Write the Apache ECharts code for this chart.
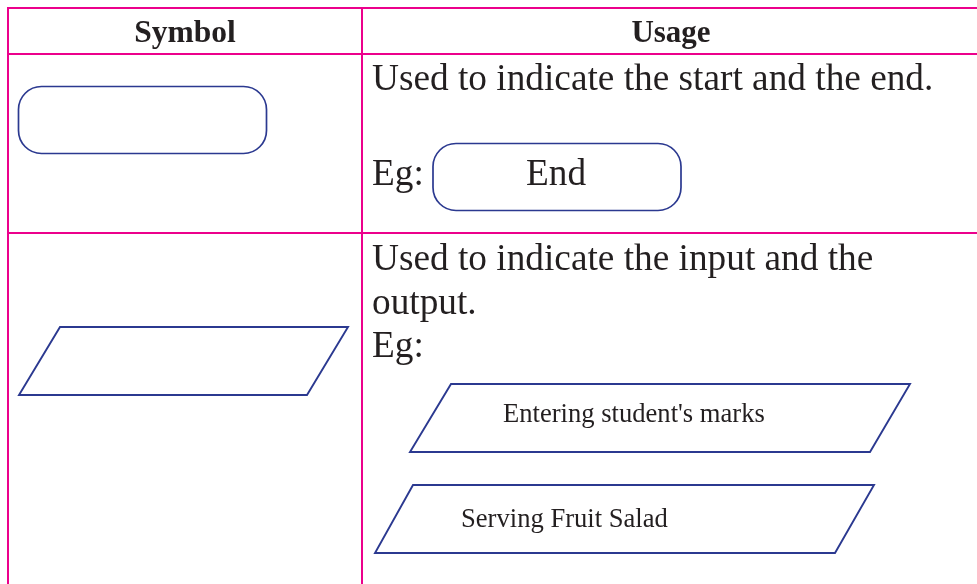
<!DOCTYPE html>
<html>
<head>
<meta charset="utf-8">
<script src="https://cdn.jsdelivr.net/npm/echarts@6/dist/echarts.min.js"></script>
<style>html,body{margin:0;padding:0;background:#fff}#c{width:977px;height:584px}</style>
</head>
<body>
<div id="c"></div>
<script>
// ---- content data ----
const headers = ["Symbol", "Usage"];
const row1Usage = ["Used to indicate the start and the end."];
const row1Example = "End";
const row2Usage = ["Used to indicate the input and the", "output."];
const egLabel = "Eg:";
const row2Examples = ["Entering student's marks", "Serving Fruit Salad"];

// ---- layout / style ----
const MAG = '#EC008C', BLUE = '#2B3990', INK = '#231F20';
const SERIF = '"Liberation Serif","Times New Roman",serif';
const W = 977, H = 584;

const mctx = document.createElement('canvas').getContext('2d');
function baselineOffset(font) {
  mctx.font = font;
  mctx.textBaseline = 'middle';
  return mctx.measureText('H').actualBoundingBoxDescent; // 'middle' line -> alphabetic baseline
}

function line(x1, y1, x2, y2, color, w) {
  return { type: 'line', shape: { x1, y1, x2, y2 }, style: { stroke: color, lineWidth: w }, silent: true };
}
function txt(s, x, baseline, size, opts) {
  opts = opts || {};
  const font = (opts.bold ? 'bold ' : '') + size + 'px ' + SERIF;
  return { type: 'text', style: { text: s, x, y: baseline - baselineOffset(font), fill: INK, font,
    align: opts.align || 'left', verticalAlign: 'middle' }, silent: true };
}
function rrect(x, y, w, h, r) {
  return { type: 'rect', shape: { x, y, width: w, height: h, r }, style: { fill: 'none', stroke: BLUE, lineWidth: 1.7 }, silent: true };
}
function para(tl, tr, br, bl) {
  return { type: 'polygon', shape: { points: [tl, tr, br, bl] }, style: { fill: 'none', stroke: BLUE, lineWidth: 1.9, lineJoin: 'miter' }, silent: true };
}

const g = [];
// table grid
g.push(line(7, 8, W, 8, MAG, 2));
g.push(line(7, 54, W, 54, MAG, 2));
g.push(line(7, 233, W, 233, MAG, 2));
g.push(line(8, 7, 8, H, MAG, 2));
g.push(line(362, 7, 362, H, MAG, 2));

// headers
g.push(txt(headers[0], 185, 42, 31.5, { bold: true, align: 'center' }));
g.push(txt(headers[1], 671, 42, 31, { bold: true, align: 'center' }));

// row 1
g.push(rrect(18.5, 86.5, 248, 67, 23));
g.push(txt(row1Usage[0], 372, 90, 37.3));
g.push(txt(egLabel, 372, 185, 37.3));
g.push(rrect(433, 143.5, 248, 67, 23));
g.push(txt(row1Example, 556, 185, 37.3, { align: 'center' }));

// row 2
g.push(para([60, 327], [348, 327], [307, 395], [19, 395]));
g.push(txt(row2Usage[0], 372, 270, 37.3));
g.push(txt(row2Usage[1], 372, 313.5, 37.3));
g.push(txt(egLabel, 372, 356.5, 37.3));
g.push(para([451, 384], [910, 384], [870, 452], [410, 452]));
g.push(txt(row2Examples[0], 503, 421.5, 26.6));
g.push(para([413, 485], [874, 485], [835, 553], [375, 553]));
g.push(txt(row2Examples[1], 461, 526.5, 26.6));

const chart = echarts.init(document.getElementById('c'), null, { renderer: 'canvas' });
chart.setOption({ backgroundColor: '#fff', animation: false, graphic: { elements: g } });
</script>
</body>
</html>
